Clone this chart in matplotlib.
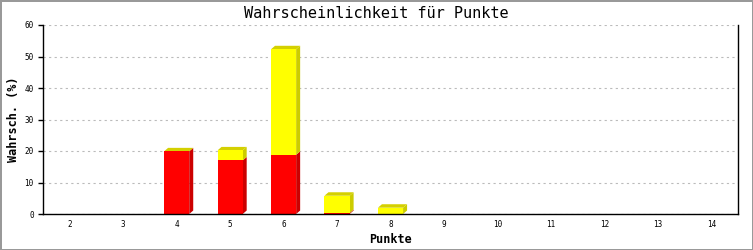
import matplotlib
matplotlib.use("Agg")
import matplotlib.pyplot as plt
from matplotlib.patches import Polygon


punkte = [2, 3, 4, 5, 6, 7, 8, 9, 10, 11, 12, 13, 14]
rot = [0, 0, 19.9, 17.0, 18.8, 0.3, 0, 0, 0, 0, 0, 0, 0]
gelb = [0, 0, 0, 3.2, 33.5, 5.5, 2.0, 0, 0, 0, 0, 0, 0]
y_ticks = [0, 10, 20, 30, 40, 50, 60]

titel = "Wahrscheinlichkeit für Punkte"
x_label = "Punkte"
y_label = "Wahrsch. (%)"

FONT = "DejaVu Sans Mono"
WIDTH = 0.47
DX = 0.075   # depth of the 3d look, data units
DY = 1.1


def side(ax, x, y0, y1, color):
  x1 = x + WIDTH / 2
  ax.add_patch(Polygon(
    [(x1, y0), (x1 + DX, y0 + DY), (x1 + DX, y1 + DY), (x1, y1)],
    closed=True, facecolor=color, edgecolor="none", zorder=3))


def top(ax, x, y1, color):
  x0 = x - WIDTH / 2
  x1 = x + WIDTH / 2
  ax.add_patch(Polygon(
    [(x0, y1), (x0 + DX, y1 + DY), (x1 + DX, y1 + DY), (x1, y1)],
    closed=True, facecolor=color, edgecolor="none", zorder=3))


fig = plt.figure(figsize=(7.53, 2.50), dpi=100)
fig.patch.set_edgecolor("#999999")
fig.patch.set_linewidth(1.8)
ax = fig.add_axes([43 / 753, 1 - 214 / 250, 695 / 753, 189 / 250])

xs = list(range(len(punkte)))
ax.bar(xs, rot, width=WIDTH, color="#ff0000", zorder=4)
ax.bar(xs, gelb, width=WIDTH, bottom=rot, color="#ffff00", zorder=4)

for x, r, g in zip(xs, rot, gelb):
  if r + g <= 0:
    continue
  if r > 0:
    side(ax, x, 0, r, "#cc0000")
  if g > 0:
    side(ax, x, r, r + g, "#cccc00")
  top(ax, x, r + g, "#d4d000")

ax.set_xlim(-0.5, len(punkte) - 0.5)
ax.set_ylim(0, 60)
ax.set_xticks(xs)
ax.set_xticklabels([str(p) for p in punkte])
ax.set_yticks(y_ticks)
ax.tick_params(axis="x", length=0, pad=4, labelsize=5.5)
ax.tick_params(axis="y", length=3.6, width=1, pad=3, labelsize=5.5)
for lab in ax.get_xticklabels() + ax.get_yticklabels():
  lab.set_fontfamily(FONT)

ax.grid(True, axis="y", color="#bbbbbb", linestyle=(0, (2, 3)), linewidth=0.8, zorder=1)
ax.spines["top"].set_visible(False)
for s in ("left", "right", "bottom"):
  ax.spines[s].set_linewidth(1)
  ax.spines[s].set_zorder(5)

ax.set_xlabel(x_label, fontfamily=FONT, fontweight="bold", fontsize=8.5, labelpad=3)
ax.set_ylabel(y_label, fontfamily=FONT, fontweight="bold", fontsize=8.5, labelpad=3)
fig.text(0.5, 1 - 14 / 250, titel, ha="center", va="center", fontfamily=FONT, fontsize=11)

fig.savefig("out.png", dpi=100, edgecolor=fig.get_edgecolor())
